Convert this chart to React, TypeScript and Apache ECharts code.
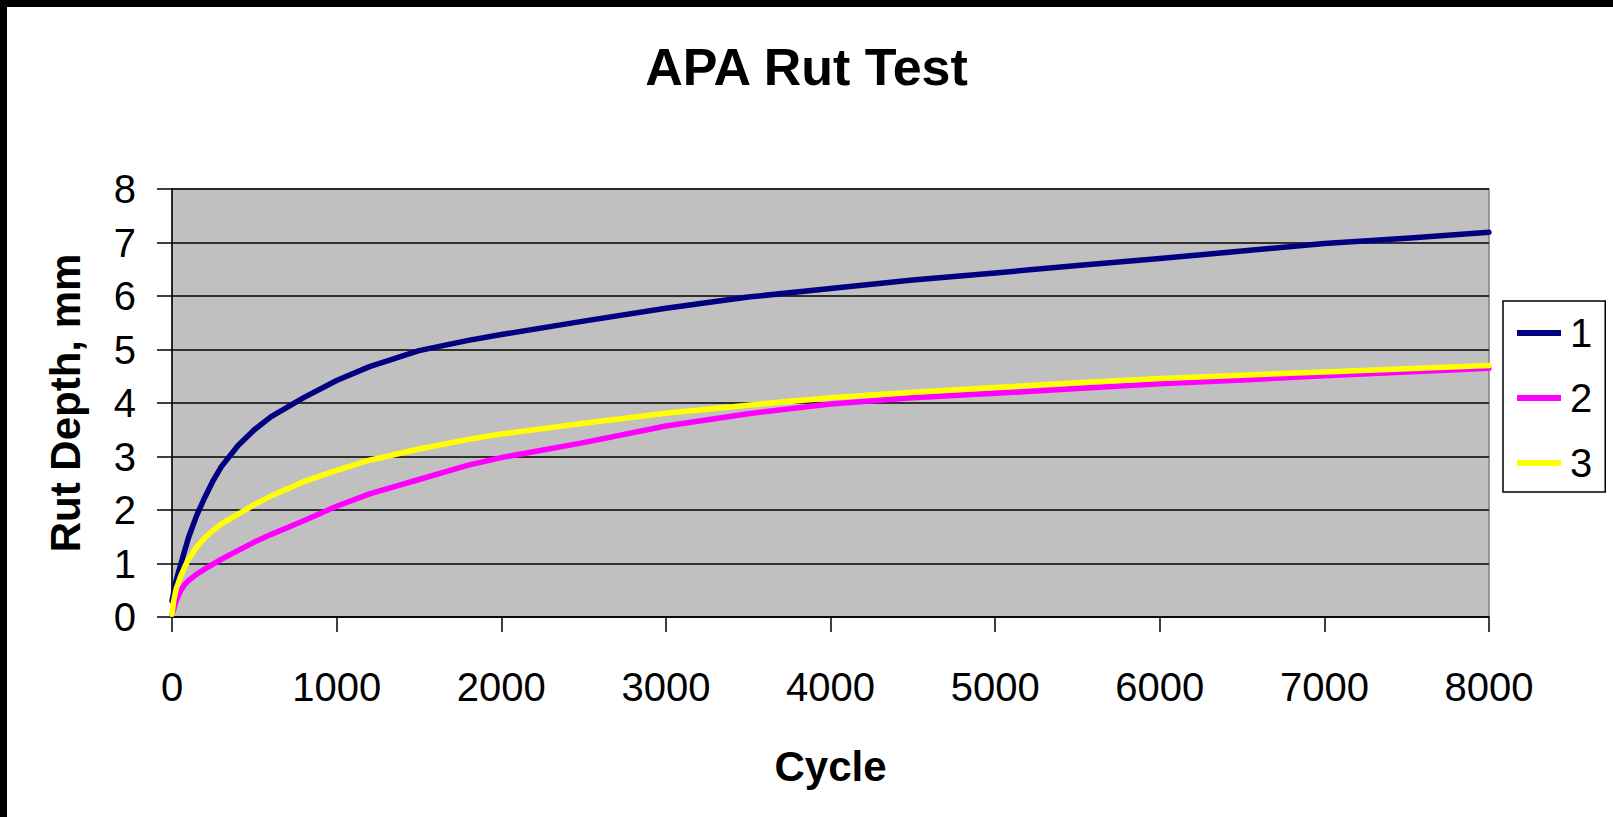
import React, { useEffect, useRef } from "react";
import * as echarts from "echarts";

const cycles = [0, 10, 25, 50, 75, 100, 150, 200, 250, 300, 400, 500, 600, 800, 1000, 1200, 1500, 1800, 2000, 2500, 3000, 3500, 4000, 4500, 5000, 5500, 6000, 6500, 7000, 7500, 8000];
const series1 = [0.30, 0.45, 0.68, 0.95, 1.22, 1.48, 1.90, 2.24, 2.55, 2.81, 3.20, 3.50, 3.74, 4.10, 4.42, 4.68, 4.98, 5.17, 5.28, 5.53, 5.77, 5.98, 6.14, 6.30, 6.43, 6.57, 6.70, 6.84, 6.98, 7.08, 7.19];
const series2 = [0.05, 0.14, 0.30, 0.48, 0.60, 0.68, 0.80, 0.90, 0.99, 1.08, 1.24, 1.40, 1.54, 1.80, 2.07, 2.30, 2.57, 2.84, 2.98, 3.26, 3.57, 3.80, 3.98, 4.10, 4.18, 4.27, 4.36, 4.43, 4.51, 4.58, 4.65];
const series3 = [0.05, 0.30, 0.52, 0.74, 0.92, 1.08, 1.31, 1.48, 1.62, 1.74, 1.92, 2.10, 2.26, 2.53, 2.74, 2.93, 3.14, 3.32, 3.42, 3.62, 3.81, 3.96, 4.10, 4.20, 4.29, 4.38, 4.46, 4.52, 4.58, 4.64, 4.70];
const seriesNames = ["1", "2", "3"];
const seriesColors = ["#000080", "#FF00FF", "#FFFF00"];

const FONT = 'Arial, "Liberation Sans", sans-serif';

export default function App() {
  const ref = useRef<HTMLDivElement>(null);
  useEffect(() => {
    if (!ref.current) return;
    const chart = echarts.init(ref.current, undefined, { renderer: "svg" });
    const values = [series1, series2, series3];
    chart.setOption({
      animation: false,
      backgroundColor: "#ffffff",
      title: {
        text: "APA Rut Test",
        left: "center",
        top: 36,
        textStyle: { fontFamily: FONT, fontSize: 52, fontWeight: "bold", color: "#000" },
      },
      graphic: [
        { type: "rect", left: 0, top: 0, shape: { width: 7, height: 817 }, style: { fill: "#000" } },
        { type: "rect", left: 0, top: 0, shape: { width: 1613, height: 7 }, style: { fill: "#000" } },
      ],
      legend: {
        orient: "vertical",
        left: 1503,
        top: 301,
        padding: [12, 13, 9, 14],
        borderColor: "#000",
        borderWidth: 1.5,
        backgroundColor: "#fff",
        itemWidth: 44,
        itemHeight: 6,
        itemGap: 25,
        icon: "rect",
        data: seriesNames,
        textStyle: { fontFamily: FONT, fontSize: 40, lineHeight: 40, color: "#000", padding: [0, 0, 0, 4] },
      },
      grid: {
        left: 172,
        top: 189,
        right: 124,
        bottom: 200,
        show: true,
        backgroundColor: "#C0C0C0",
        borderColor: "#808080",
        borderWidth: 1.5,
      },
      xAxis: {
        type: "value",
        min: 0,
        max: 8000,
        interval: 1000,
        name: "Cycle",
        nameLocation: "middle",
        nameGap: 128,
        nameTextStyle: { fontFamily: FONT, fontSize: 42, fontWeight: "bold", color: "#000" },
        axisLine: { show: true, lineStyle: { color: "#000", width: 1.5 } },
        axisTick: { show: true, length: 15, inside: false, lineStyle: { color: "#000", width: 1.5 } },
        axisLabel: {
          fontFamily: FONT,
          fontSize: 40,
          color: "#000",
          margin: 50,
          formatter: (v: number) => String(v),
        },
        splitLine: { show: false },
      },
      yAxis: {
        type: "value",
        min: 0,
        max: 8,
        interval: 1,
        name: "Rut Depth, mm",
        nameLocation: "middle",
        nameGap: 86,
        nameRotate: 90,
        nameTextStyle: { fontFamily: FONT, fontSize: 42, fontWeight: "bold", color: "#000" },
        axisLine: { show: true, lineStyle: { color: "#000", width: 1.5 } },
        axisTick: { show: true, length: 15, inside: false, lineStyle: { color: "#000", width: 1.5 } },
        axisLabel: { fontFamily: FONT, fontSize: 40, color: "#000", margin: 36 },
        splitLine: { show: true, lineStyle: { color: "#000", width: 1.5 } },
      },
      series: values.map((vals, i) => ({
        name: seriesNames[i],
        type: "line",
        data: cycles.map((c, j) => [c, vals[j]]),
        showSymbol: false,
        smooth: false,
        color: seriesColors[i],
        lineStyle: { color: seriesColors[i], width: 5.5, join: "round", cap: "round" },
      })),
    });
    return () => chart.dispose();
  }, []);
  return (
    <div
      ref={ref}
      style={{ position: "absolute", left: 0, top: 0, width: 1613, height: 817 }}
    />
  );
}
